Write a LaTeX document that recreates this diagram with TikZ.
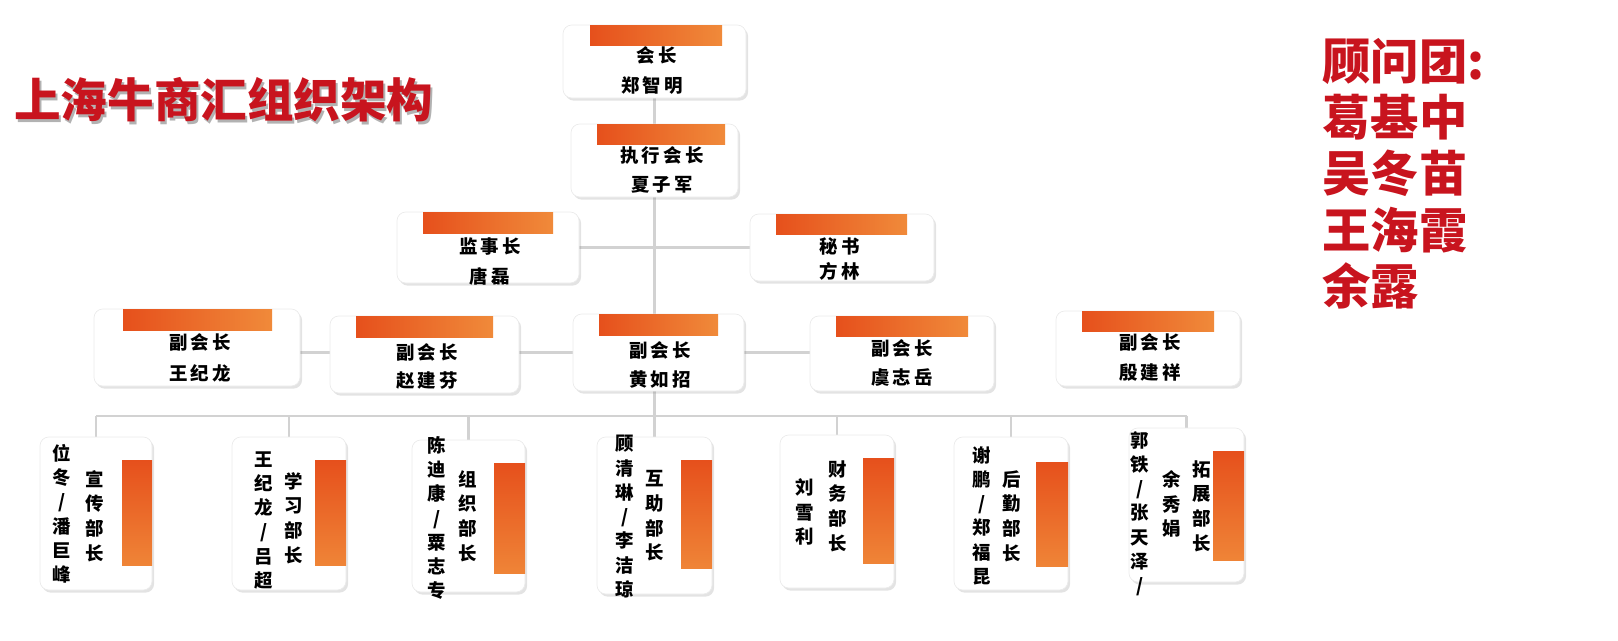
\documentclass[tikz,border=0pt]{standalone}
\usepackage{fontspec}
\setmainfont{Noto Sans CJK SC}
\newfontfamily\cjk{Noto Sans CJK SC}[LetterSpace=18]
\newfontfamily\cjkplain{Noto Sans CJK SC}
\usetikzlibrary{shadows,backgrounds}
\definecolor{orA}{HTML}{E6501C}
\definecolor{orB}{HTML}{F08A3A}
\definecolor{ttl}{HTML}{C8141E}
\definecolor{conn}{HTML}{D2D2D2}
\tikzset{
  box/.style={draw=black!8, fill=white, rounded corners=5pt, inner sep=0pt,
    drop shadow={opacity=0.22, shadow xshift=1.2pt, shadow yshift=-1.5pt}},
  bar/.style={left color=orA, right color=orB},
  vbar/.style={top color=orA, bottom color=orB!90!orA},
  lbl/.style={font=\cjk\bfseries\fontsize{10.5pt}{12pt}\selectfont, inner sep=0pt},
  vt/.style={font=\cjkplain\bfseries\fontsize{10.5pt}{13.8pt}\selectfont, align=center, inner sep=0pt, anchor=north},
  vtc/.style={font=\cjkplain\bfseries\fontsize{10.5pt}{14pt}\selectfont, align=center, inner sep=0pt},
  cn/.style={draw=conn, line width=1.2pt},
}
\begin{document}
\begin{tikzpicture}[x=0.02cm, y=-0.02cm]
\useasboundingbox (0,0) rectangle (1618,640);
% title
\node[font=\cjkplain\bfseries\fontsize{26.5pt}{30pt}\selectfont, text=ttl, anchor=west, inner sep=0pt] (titles) at (16,103) {\color{black!30}上海牛商汇组织架构};
\node[font=\cjkplain\bfseries\fontsize{26.5pt}{30pt}\selectfont, text=ttl, anchor=west, inner sep=0pt] (title) at (14,100) {上海牛商汇组织架构};
\node[font=\cjkplain\bfseries\fontsize{27.5pt}{32pt}\selectfont, text=ttl, align=left, anchor=north west, inner sep=0pt] (adv) at (1322,38) {顾问团:\\葛基中\\吴冬苗\\王海霞\\余露};
% top boxes
\node[box, minimum width=183*0.02cm, minimum height=73*0.02cm] (a) at (654.5,61.5) {};
\shade[bar] (590,25) rectangle (722,45);
\node[lbl] (a1) at (657,55) {会长};
\node[lbl] (a2) at (652,85) {郑智明};
\node[box, minimum width=167*0.02cm, minimum height=73*0.02cm] (b) at (654.5,160.5) {};
\shade[bar] (597,124) rectangle (725,144);
\node[lbl] (b1l) at (662,155) {执行会长};
\node[lbl] (b2l) at (662,185) {夏子军};
\node[box, minimum width=182*0.02cm, minimum height=71*0.02cm] (jsz) at (488,247.5) {};
\shade[bar] (423,212) rectangle (553,233);
\node[lbl] (j1) at (490,247) {监事长};
\node[lbl] (j2) at (490,276) {唐磊};
\node[box, minimum width=184*0.02cm, minimum height=67*0.02cm] (ms) at (842,247.5) {};
\shade[bar] (776,214) rectangle (907,234);
\node[lbl] (m1) at (840,246) {秘书};
\node[lbl] (m2) at (840,271) {方林};
% vice presidents
\node[box, minimum width=206*0.02cm, minimum height=77*0.02cm] (v1) at (197,347.5) {};
\shade[bar] (123,309) rectangle (272,330);
\node[lbl] (v1a) at (200,342) {副会长};
\node[lbl] (v1b) at (200,373) {王纪龙};
\node[box, minimum width=189*0.02cm, minimum height=77*0.02cm] (v2) at (424.5,354.5) {};
\shade[bar] (356,316) rectangle (493,337);
\node[lbl] (v2a) at (427,352) {副会长};
\node[lbl] (v2b) at (427,381) {赵建芬};
\node[box, minimum width=171*0.02cm, minimum height=77*0.02cm] (v3) at (658.5,352.5) {};
\shade[bar] (599,314) rectangle (718,335);
\node[lbl] (v3a) at (660,350) {副会长};
\node[lbl] (v3b) at (660,380) {黄如招};
\node[box, minimum width=184*0.02cm, minimum height=75*0.02cm] (v4) at (902,353.5) {};
\shade[bar] (836,316) rectangle (968,336);
\node[lbl] (v4a) at (902,348) {副会长};
\node[lbl] (v4b) at (902,378) {虞志岳};
\node[box, minimum width=184*0.02cm, minimum height=75*0.02cm] (v5) at (1148,348.5) {};
\shade[bar] (1082,311) rectangle (1214,331);
\node[lbl] (v5a) at (1150,342) {副会长};
\node[lbl] (v5b) at (1150,372) {殷建祥};
% bottom boxes
\node[box, minimum width=112*0.02cm, minimum height=153*0.02cm] (d1) at (96,513.5) {};
\shade[vbar] (122,460) rectangle (152,565);
\node[vt] (d1n) at (62,444) {位\\冬\\/\\潘\\巨\\峰};
\node[vtc] (d1t) at (95,516) {宣\\传\\部\\长};
\node[box, minimum width=114*0.02cm, minimum height=153*0.02cm] (d2) at (289,513.5) {};
\shade[vbar] (315,460) rectangle (346,565);
\node[vt] (d2n) at (264,451) {王\\纪\\龙\\/\\吕\\超};
\node[vtc] (d2t) at (294,518) {学\\习\\部\\长};
\node[box, minimum width=113*0.02cm, minimum height=152*0.02cm] (d3) at (468.5,516) {};
\shade[vbar] (494,463) rectangle (525,573);
\node[vt] (d3n) at (437,436) {陈\\迪\\康\\/\\粟\\志\\专};
\node[vtc] (d3t) at (468,516) {组\\织\\部\\长};
\node[box, minimum width=115*0.02cm, minimum height=157*0.02cm] (d4) at (654.5,515.5) {};
\shade[vbar] (681,460) rectangle (712,568);
\node[vt] (d4n) at (625,435) {顾\\清\\琳\\/\\李\\洁\\琼};
\node[vtc] (d4t) at (655,516) {互\\助\\部\\长};
\node[box, minimum width=114*0.02cm, minimum height=153*0.02cm] (d5) at (837,511.5) {};
\shade[vbar] (863,458) rectangle (894,563);
\node[vtc] (d5n) at (805,512) {刘\\雪\\利};
\node[vtc] (d5t) at (838,506) {财\\务\\部\\长};
\node[box, minimum width=114*0.02cm, minimum height=153*0.02cm] (d6) at (1011,513.5) {};
\shade[vbar] (1036,462) rectangle (1068,566);
\node[vt] (d6n) at (982,446) {谢\\鹏\\/\\郑\\福\\昆};
\node[vtc] (d6t) at (1012,516) {后\\勤\\部\\长};
\node[box, minimum width=115*0.02cm, minimum height=154*0.02cm] (d7) at (1186.5,505) {};
\shade[vbar] (1213,451) rectangle (1244,560);
\node[vt] (d7n) at (1140,431) {郭\\铁\\/\\张\\天\\泽\\/};
\node[vtc] (d7m) at (1172,504) {余\\秀\\娟};
\node[vtc] (d7t) at (1202,506) {拓\\展\\部\\长};
\coordinate (bus) at (657,416);
% connectors
\begin{scope}[on background layer]
\draw[cn] (a) -- (d4.north);
\draw[cn] (jsz) -- (ms);
\draw[cn] (v1.center |- v3.center) -- (v4.center |- v3.center);
\draw[cn] (d1.north |- bus) -- (d7.north |- bus);
\foreach \k in {d1,d2,d3,d5,d6,d7} \draw[cn] (\k.north) -- (\k.north |- bus);
\end{scope}
\end{tikzpicture}
\end{document}
